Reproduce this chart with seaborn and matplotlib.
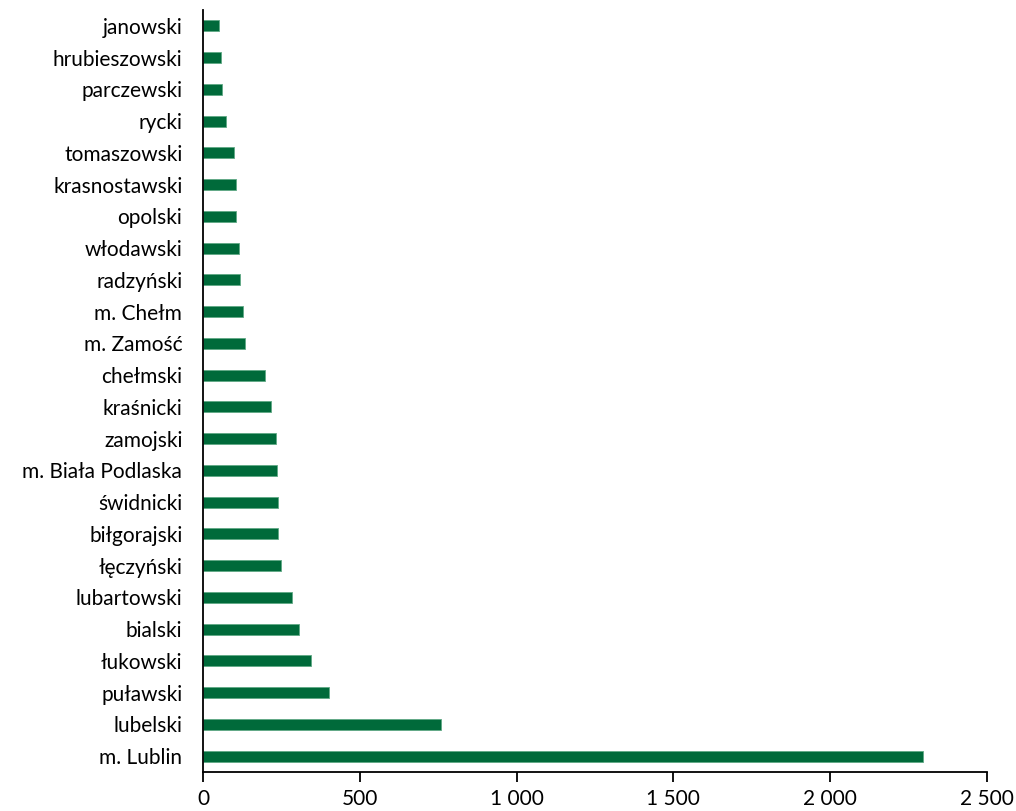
import matplotlib
matplotlib.use("Agg")
import matplotlib.pyplot as plt
import seaborn as sns
import pandas as pd

# Powiaty of the Lubelskie voivodeship, top to bottom
powiaty = [
    "janowski", "hrubieszowski", "parczewski", "rycki", "tomaszowski",
    "krasnostawski", "opolski", "włodawski", "radzyński", "m. Chełm",
    "m. Zamość", "chełmski", "kraśnicki", "zamojski", "m. Biała Podlaska",
    "świdnicki", "biłgorajski", "łęczyński", "lubartowski", "bialski",
    "łukowski", "puławski", "lubelski", "m. Lublin",
]
wartosci = [
    50, 57, 59, 74, 97,
    104, 106, 115, 117, 128,
    134, 197, 215, 231, 237,
    238, 240, 248, 282, 306,
    345, 400, 759, 2298,
]
x_ticks = [0, 500, 1000, 1500, 2000, 2500]
x_tick_labels = ["0", "500", "1 000", "1 500", "2 000", "2 500"]

df = pd.DataFrame({"powiat": powiaty, "wartosc": wartosci})

sns.set_theme(style="white")
plt.rcParams["font.family"] = ["Lato", "DejaVu Sans"]

fig = plt.figure(figsize=(10.16, 8.11), dpi=100)
ax = fig.add_axes([0.2, 1 - 772 / 811, 0.771, (772 - 10) / 811])

sns.barplot(data=df, y="powiat", x="wartosc", order=powiaty,
            color="#006a3a", saturation=1, width=0.35, ax=ax,
            edgecolor="#5fa985", linewidth=0.6)

ax.set_xlim(0, 2500)
ax.set_ylim(len(powiaty) - 0.5, -0.5)
ax.set_xticks(x_ticks)
ax.set_xticklabels(x_tick_labels)
ax.set_xlabel("")
ax.set_ylabel("")

for side in ("top", "right"):
    ax.spines[side].set_visible(False)
for side in ("left", "bottom"):
    ax.spines[side].set_color("#000000")
    ax.spines[side].set_linewidth(1.3)

ax.tick_params(axis="x", direction="out", length=7, width=1.3, color="#000000",
               labelsize=15, labelcolor="#000000", pad=5, bottom=True)
ax.tick_params(axis="y", length=0, labelsize=15, labelcolor="#000000", pad=15)

fig.savefig("out.png", dpi=100)
